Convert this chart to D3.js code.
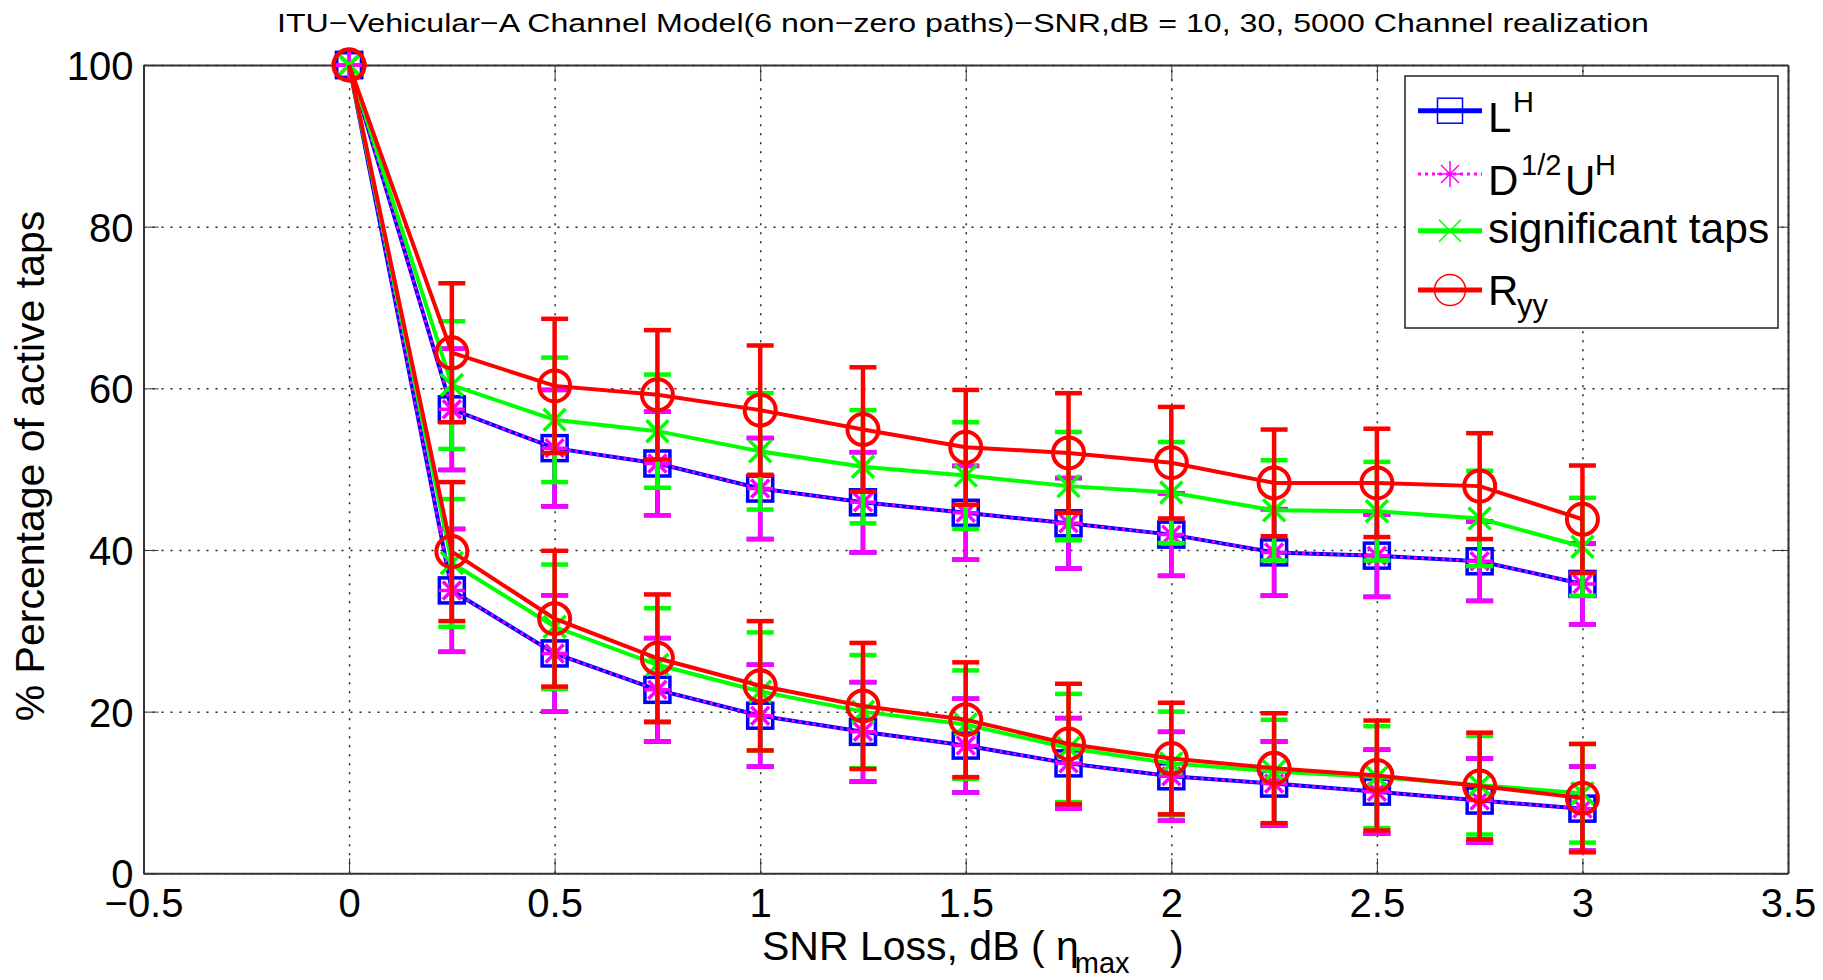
<!DOCTYPE html>
<html>
<head>
<meta charset="utf-8">
<script src="https://cdn.jsdelivr.net/npm/d3@7"></script>
<style>
body { margin: 0; background: #fff; }
svg { display: block; font-family: "Liberation Sans", Arial, sans-serif; }
</style>
</head>
<body>
<div id="grafico"></div>
<script>
// eje x: perdida de SNR en dB
const pasos = [0, 0.25, 0.5, 0.75, 1, 1.25, 1.5, 1.75, 2, 2.25, 2.5, 2.75, 3];

// curvas de arriba (SNR 30 dB)
const lhAlto = [100, 57.4, 52.6, 50.7, 47.6, 45.9, 44.6, 43.3, 41.9, 39.7, 39.3, 38.6, 35.8];
const lhAltoErr = [0, 7.5, 7.2, 6.4, 6.25, 6.2, 5.8, 5.6, 5.1, 5.35, 5.1, 4.9, 5.0];
const duAlto = [100, 57.4, 52.6, 50.7, 47.6, 45.9, 44.6, 43.3, 41.9, 39.7, 39.3, 38.6, 35.8];
const duAltoErr = [0, 7.5, 7.2, 6.4, 6.25, 6.2, 5.8, 5.6, 5.1, 5.35, 5.1, 4.9, 5.0];
const sigAlto = [100, 60.4, 56.1, 54.7, 52.2, 50.3, 49.2, 47.9, 47.1, 44.9, 44.8, 43.9, 40.4];
const sigAltoErr = [0, 7.9, 7.7, 7.0, 7.2, 7.0, 6.6, 6.7, 6.25, 6.2, 6.1, 5.9, 6.05];
const ryyAlto = [100, 64.4, 60.3, 59.2, 57.3, 54.9, 52.7, 52.0, 50.8, 48.3, 48.3, 47.9, 43.8];
const ryyAltoErr = [0, 8.6, 8.3, 8.0, 8.0, 7.7, 7.1, 7.4, 6.9, 6.6, 6.7, 6.55, 6.65];

// curvas de abajo (SNR 10 dB)
const lhBajo = [100, 35.0, 27.2, 22.7, 19.5, 17.5, 15.8, 13.6, 12.0, 11.1, 10.1, 9.0, 8.0];
const lhBajoErr = [0, 7.6, 7.2, 6.4, 6.3, 6.15, 5.8, 5.6, 5.5, 5.2, 5.2, 5.2, 5.2];
const duBajo = [100, 35.0, 27.2, 22.7, 19.5, 17.5, 15.8, 13.6, 12.0, 11.1, 10.1, 9.0, 8.0];
const duBajoErr = [0, 7.6, 7.2, 6.4, 6.3, 6.15, 5.8, 5.6, 5.5, 5.2, 5.2, 5.2, 5.2];
const sigBajo = [100, 38.4, 30.5, 25.8, 22.5, 20.0, 18.4, 15.5, 13.6, 12.6, 11.9, 10.9, 9.9];
const sigBajoErr = [0, 7.9, 7.7, 7.0, 7.3, 7.0, 6.7, 6.7, 6.4, 6.4, 6.3, 6.1, 6.1];
const ryyBajo = [100, 39.8, 31.5, 26.6, 23.2, 20.7, 19.0, 16.0, 14.2, 13.0, 12.1, 10.8, 9.3];
const ryyBajoErr = [0, 8.6, 8.4, 7.9, 8.0, 7.8, 7.1, 7.45, 6.9, 6.8, 6.8, 6.6, 6.7];

const xTicks = [-0.5, 0, 0.5, 1, 1.5, 2, 2.5, 3, 3.5];
const yTicks = [0, 20, 40, 60, 80, 100];

const titulo = "ITU\u2212Vehicular\u2212A Channel Model(6 non\u2212zero paths)\u2212SNR,dB = 10, 30, 5000 Channel realization";

// dimensiones
const width = 1823;
const height = 980;
const marginLeft = 143.5;
const marginRight = 35;
const marginTop = 65;
const marginBottom = 106.7;

const xScale = d3.scaleLinear()
    .domain([-0.5, 3.5])
    .range([marginLeft, width - marginRight]);

const yScale = d3.scaleLinear()
    .domain([0, 100])
    .range([height - marginBottom, marginTop]);

const svg = d3.select("#grafico")
    .append("svg")
    .attr("width", width)
    .attr("height", height)
    .style("background", "white");

// grilla punteada
svg.append("g")
    .attr("transform", `translate(0,${height - marginBottom})`)
    .call(d3.axisBottom(xScale).tickValues(xTicks).tickSize(-(height - marginBottom - marginTop)).tickFormat(""))
    .call(g => g.select(".domain").remove())
    .call(g => g.selectAll("line").attr("stroke", "#222").attr("stroke-width", 1.5).attr("stroke-dasharray", "2,7"));

svg.append("g")
    .attr("transform", `translate(${marginLeft},0)`)
    .call(d3.axisLeft(yScale).tickValues(yTicks).tickSize(-(width - marginLeft - marginRight)).tickFormat(""))
    .call(g => g.select(".domain").remove())
    .call(g => g.selectAll("line").attr("stroke", "#222").attr("stroke-width", 1.5).attr("stroke-dasharray", "2,7"));

// ejes con ticks hacia dentro
const fuenteTick = "40px";

svg.append("g")
    .attr("transform", `translate(0,${height - marginBottom})`)
    .call(d3.axisBottom(xScale).tickValues(xTicks).tickSizeInner(-15).tickSizeOuter(0).tickPadding(15).tickFormat(d3.format("")))
    .call(g => g.selectAll("text").attr("font-size", fuenteTick).attr("fill", "#000").attr("font-family", "Liberation Sans, Arial, sans-serif"));

svg.append("g")
    .attr("transform", `translate(${marginLeft},0)`)
    .call(d3.axisLeft(yScale).tickValues(yTicks).tickSizeInner(-15).tickSizeOuter(0).tickPadding(10))
    .call(g => g.selectAll("text").attr("font-size", fuenteTick).attr("fill", "#000").attr("dy", "0.36em").attr("font-family", "Liberation Sans, Arial, sans-serif"));

svg.append("g")
    .attr("transform", `translate(0,${marginTop})`)
    .call(d3.axisTop(xScale).tickValues(xTicks).tickSizeInner(-15).tickSizeOuter(0).tickFormat(""));

svg.append("g")
    .attr("transform", `translate(${width - marginRight},0)`)
    .call(d3.axisRight(yScale).tickValues(yTicks).tickSizeInner(-15).tickSizeOuter(0).tickFormat(""));

svg.selectAll(".domain, .tick line:not([stroke-dasharray])")
    .attr("stroke", "#333");
svg.selectAll(".domain").attr("stroke-width", 2);

// marcadores
const marcador = (g, tipo, color, cx, cy, grosor) => {
    if (tipo === "square") {
        g.append("rect").attr("x", cx - 12.5).attr("y", cy - 12.5).attr("width", 25).attr("height", 25)
            .attr("fill", "none").attr("stroke", color).attr("stroke-width", grosor);
    } else if (tipo === "star") {
        g.append("path").attr("transform", `translate(${cx},${cy})`)
            .attr("d", "M-13,0H13M0,-13V13M-9,-9L9,9M-9,9L9,-9")
            .attr("fill", "none").attr("stroke", color).attr("stroke-width", grosor);
    } else if (tipo === "x") {
        g.append("path").attr("transform", `translate(${cx},${cy})`)
            .attr("d", "M-11,-11L11,11M-11,11L11,-11")
            .attr("fill", "none").attr("stroke", color).attr("stroke-width", grosor);
    } else {
        g.append("circle").attr("cx", cx).attr("cy", cy).attr("r", 15.5)
            .attr("fill", "none").attr("stroke", color).attr("stroke-width", grosor);
    }
};

const series = [
    { color: "#0000ff", tipo: "square", ancho: 4, dash: null, grupos: [[lhAlto, lhAltoErr], [lhBajo, lhBajoErr]] },
    { color: "#ff00ff", tipo: "star", ancho: 2.5, dash: "3,4", grupos: [[duAlto, duAltoErr], [duBajo, duBajoErr]] },
    { color: "#00ff00", tipo: "x", ancho: 4, dash: null, grupos: [[sigAlto, sigAltoErr], [sigBajo, sigBajoErr]] },
    { color: "#ff0000", tipo: "circle", ancho: 4, dash: null, grupos: [[ryyAlto, ryyAltoErr], [ryyBajo, ryyBajoErr]] }
];

const linea = d3.line()
    .x((d, i) => xScale(pasos[i]))
    .y(d => yScale(d));

const cap = 13.5;

series.forEach(s => {
    const g = svg.append("g");
    s.grupos.forEach(([medias, errores]) => {
        g.append("path")
            .attr("d", linea(medias))
            .attr("fill", "none")
            .attr("stroke", s.color)
            .attr("stroke-width", s.ancho)
            .attr("stroke-dasharray", s.dash);

        medias.forEach((m, i) => {
            const e = errores[i];
            if (e <= 0) return;
            const cx = xScale(pasos[i]);
            const y1 = yScale(m + e);
            const y2 = yScale(m - e);
            g.append("line").attr("x1", cx).attr("x2", cx).attr("y1", y1).attr("y2", y2)
                .attr("stroke", s.color).attr("stroke-width", 4.5);
            [y1, y2].forEach(yy => {
                g.append("line").attr("x1", cx - cap).attr("x2", cx + cap).attr("y1", yy).attr("y2", yy)
                    .attr("stroke", s.color).attr("stroke-width", 4.5);
            });
        });

        medias.forEach((m, i) => {
            marcador(g, s.tipo, s.color, xScale(pasos[i]), yScale(m), s.tipo === "circle" ? 4 : 3.5);
        });
    });
});

// titulo
svg.append("text")
    .attr("x", 963)
    .attr("y", 32)
    .attr("text-anchor", "middle")
    .attr("font-size", "26px")
    .attr("textLength", 1372)
    .attr("lengthAdjust", "spacingAndGlyphs")
    .text(titulo);

// etiqueta eje y
svg.append("text")
    .attr("transform", "translate(44,466) rotate(-90)")
    .attr("text-anchor", "middle")
    .attr("font-size", "41px")
    .text("% Percentage of active taps");

// etiqueta eje x
const xLabel = svg.append("text")
    .attr("x", 762)
    .attr("y", 960)
    .attr("font-size", "41px");
xLabel.append("tspan").text("SNR Loss, dB ( \u03b7");
xLabel.append("tspan").attr("font-size", "29px").attr("dy", 13).attr("dx", -4).text("max");
xLabel.append("tspan").attr("x", 1170).attr("dy", -13).text(")");

// leyenda
const leyenda = svg.append("g");
leyenda.append("rect")
    .attr("x", 1405).attr("y", 76).attr("width", 373).attr("height", 252)
    .attr("fill", "white").attr("stroke", "#222").attr("stroke-width", 1.5);

const filas = [110.7, 174, 230.7, 290];
series.forEach((s, i) => {
    const cy = filas[i];
    leyenda.append("line")
        .attr("x1", 1418).attr("x2", 1482).attr("y1", cy).attr("y2", cy)
        .attr("stroke", s.color).attr("stroke-width", s.dash ? 3 : 5)
        .attr("stroke-dasharray", s.dash);
    marcador(leyenda, s.tipo, s.color, 1450, cy, 1.5);
});

const texto = (x, y, t, tam) => leyenda.append("text").attr("x", x).attr("y", y).attr("font-size", tam).text(t);
texto(1488, 131.7, "L", "42px");
texto(1513, 112, "H", "29px");
texto(1488, 195, "D", "42px");
texto(1521, 175, "1/2", "29px");
texto(1565, 195, "U", "42px");
texto(1595, 175, "H", "29px");
texto(1488, 243.3, "significant taps", "42.5px");
texto(1488, 305, "R", "42px");
texto(1517, 316, "yy", "31px");
</script>
</body>
</html>
